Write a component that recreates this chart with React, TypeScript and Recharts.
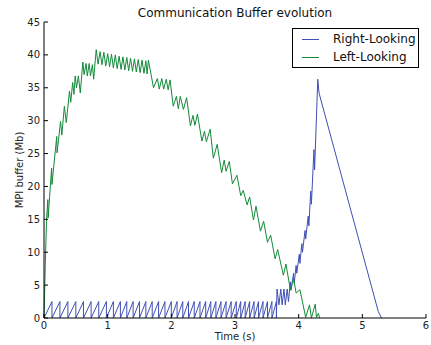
import { LineChart, Line, XAxis, YAxis, Legend } from "recharts";

/* ---------- data ---------- */

const xTicks = [0, 1, 2, 3, 4, 5, 6];
const yTicks = [0, 5, 10, 15, 20, 25, 30, 35, 40, 45];

// Right-Looking: small sawtooth teeth (rise to peak, straight drop to 0)
const rightTeethPeaks = [
  0.125, 0.25, 0.375, 0.5, 0.62, 0.74, 0.86, 0.98, 1.09, 1.2, 1.3, 1.4, 1.5,
  1.6, 1.7, 1.8, 1.9, 2.0, 2.09, 2.18, 2.27, 2.36, 2.45, 2.54, 2.62, 2.7,
  2.78, 2.86, 2.94, 3.02, 3.09, 3.16, 3.23, 3.3, 3.37, 3.44, 3.51, 3.58, 3.65,
];
const rightTeethHeight = 2.5;

// Right-Looking: after the teeth, the climb and the long decay
const rightTailTimes = [
  3.66, 3.69, 3.72, 3.74, 3.77, 3.79, 3.82, 3.84, 3.87, 3.88, 3.92, 3.93, 3.96,
  3.97, 4.01, 4.02, 4.05, 4.06, 4.1, 4.11, 4.15, 4.16, 4.19, 4.2, 4.24, 4.25,
  4.3, 4.32, 5.25, 5.3,
];
const rightTailValues = [
  4.4, 2.0, 4.4, 2.0, 4.4, 2.0, 4.4, 2.5, 5.5, 4.2, 6.8, 5.3, 8.0, 6.8, 9.7,
  8.3, 11.3, 10.0, 13.3, 12.0, 15.5, 14.0, 19.3, 17.3, 25.6, 22.5, 36.3, 34.2,
  1.0, 0,
];

// Left-Looking
const leftTimes = [
  0, 0.02, 0.04, 0.06, 0.065, 0.12, 0.125, 0.2, 0.205, 0.26, 0.28, 0.32, 0.35,
  0.4, 0.42, 0.45, 0.47, 0.49, 0.51, 0.54, 0.57, 0.61, 0.63, 0.66, 0.68, 0.71,
  0.73, 0.76, 0.78, 0.82, 0.85, 0.88, 0.91, 0.94, 0.97, 1.0, 1.03, 1.06, 1.09,
  1.12, 1.15, 1.18, 1.21, 1.24, 1.27, 1.3, 1.33, 1.36, 1.39, 1.42, 1.45, 1.48,
  1.51, 1.54, 1.57, 1.6, 1.62, 1.64, 1.72, 1.78, 1.81, 1.85, 1.88, 1.92, 1.95,
  1.98, 2.03, 2.08, 2.11, 2.14, 2.19, 2.24, 2.3, 2.34, 2.37, 2.41, 2.48, 2.52,
  2.55, 2.61, 2.66, 2.72, 2.79, 2.83, 2.86, 2.91, 2.96, 3.03, 3.09, 3.13, 3.19,
  3.23, 3.29, 3.33, 3.4, 3.45, 3.51, 3.56, 3.63, 3.67, 3.76, 3.8, 3.87, 3.92,
  3.96, 4.02, 4.11, 4.17, 4.2, 4.26, 4.28, 4.31, 4.33,
];
const leftValues = [
  0, 8, 15, 18, 15.2, 22.8, 20.3, 27.6, 25.1, 29.9, 27.8, 32.2, 29.7, 34.5,
  32.8, 35.8, 34.0, 36.8, 35.0, 36.8, 34.2, 38.9, 37.0, 38.7, 36.8, 38.7, 36.8,
  38.5, 36.3, 40.8, 38.6, 40.5, 38.5, 40.4, 38.3, 40.2, 38.2, 40.1, 38.0, 40.0,
  37.9, 39.8, 37.8, 39.7, 37.7, 39.6, 37.6, 39.5, 37.5, 39.4, 37.4, 39.3, 37.3,
  39.2, 37.2, 39.1, 37.1, 39.2, 35.0, 36.4, 34.8, 36.4, 34.8, 36.3, 34.7, 36.2,
  32.2, 33.7, 31.8, 33.7, 31.7, 33.5, 29.2, 30.8, 29.3, 31.0, 26.9, 28.4, 26.8,
  28.7, 24.3, 26.4, 22.1, 24.0, 22.3, 23.8, 20.4, 21.7, 18.6, 19.4, 17.2, 18.4,
  14.9, 17.0, 13.2, 14.7, 11.5, 12.6, 9.0, 10.4, 6.5, 8.2, 4.3, 6.0, 3.8, 4.3,
  0.1, 2.0, 0, 2.1, 0.1, 0.7, 0,
];

/* ---------- tables ---------- */

const rightData: { t: number; v: number }[] = [{ t: 0, v: 0 }];
rightTeethPeaks.forEach((t) => {
  rightData.push({ t, v: rightTeethHeight });
  rightData.push({ t, v: 0 });
});
rightTailTimes.forEach((t, i) => rightData.push({ t, v: rightTailValues[i] }));

const leftData = leftTimes.map((t, i) => ({ t, v: leftValues[i] }));

/* ---------- look ---------- */

const FONT = "DejaVu Sans, Verdana, sans-serif";
const BLUE = "#3f4fb5";
const GREEN = "#138a3a";
const W = 431;
const H = 345;
const PLOT = { left: 44, right: 426, top: 22, bottom: 318 };
const TICK = 4;

function BottomTick({ x, y, payload }: any) {
  return (
    <g>
      <line x1={x} x2={x} y1={y} y2={y - TICK} stroke="#000" />
      <text x={x} y={y + 11} textAnchor="middle" fontSize={10} fontFamily={FONT} fill="#222">
        {payload.value}
      </text>
    </g>
  );
}

function TopTick({ x, y }: any) {
  return <line x1={x} x2={x} y1={y} y2={y + TICK} stroke="#000" />;
}

function LeftTick({ x, y, payload }: any) {
  return (
    <g>
      <line x1={x} x2={x + TICK} y1={y} y2={y} stroke="#000" />
      <text x={x - 4} y={y} dy="0.35em" textAnchor="end" fontSize={10} fontFamily={FONT} fill="#222">
        {payload.value}
      </text>
    </g>
  );
}

function RightTick({ x, y }: any) {
  return <line x1={x} x2={x - TICK} y1={y} y2={y} stroke="#000" />;
}

function LegendBox() {
  const rows = [
    { name: "Right-Looking", color: BLUE },
    { name: "Left-Looking", color: GREEN },
  ];
  return (
    <div
      style={{
        width: 125,
        height: 38,
        border: "1px solid #000",
        background: "#fff",
        fontFamily: FONT,
        fontSize: 12,
        color: "#111",
        position: "relative",
      }}
    >
      {rows.map((r, i) => (
        <div
          key={r.name}
          style={{ position: "absolute", left: 0, top: 2 + i * 18, height: 16, display: "flex", alignItems: "center" }}
        >
          <span style={{ display: "inline-block", marginLeft: 9, width: 17, height: 0, borderTop: `1px solid ${r.color}` }} />
          <span style={{ marginLeft: 14 }}>{r.name}</span>
        </div>
      ))}
    </div>
  );
}

export default function App() {
  const cx = (PLOT.left + PLOT.right) / 2;
  const cy = (PLOT.top + PLOT.bottom) / 2;
  return (
    <div style={{ position: "absolute", left: 0, top: 0, width: W, height: H, background: "#fff" }}>
      <LineChart
        width={W}
        height={H}
        margin={{ top: PLOT.top, right: W - PLOT.right, bottom: 0, left: 0 }}
      >
        <XAxis
          dataKey="t"
          type="number"
          domain={[0, 6]}
          ticks={xTicks}
          height={H - PLOT.bottom}
          axisLine={{ stroke: "#000" }}
          tickLine={false}
          tickSize={0}
          tickMargin={0}
          tick={<BottomTick />}
          interval={0}
        />
        <XAxis
          xAxisId="top"
          orientation="top"
          type="number"
          domain={[0, 6]}
          ticks={xTicks}
          height={0}
          axisLine={{ stroke: "#000" }}
          tickLine={false}
          tickSize={0}
          tickMargin={0}
          tick={<TopTick />}
          interval={0}
        />
        <YAxis
          type="number"
          domain={[0, 45]}
          ticks={yTicks}
          width={PLOT.left}
          axisLine={{ stroke: "#000" }}
          tickLine={false}
          tickSize={0}
          tickMargin={0}
          tick={<LeftTick />}
          interval={0}
        />
        <YAxis
          yAxisId="right"
          orientation="right"
          type="number"
          domain={[0, 45]}
          ticks={yTicks}
          width={0}
          axisLine={{ stroke: "#000" }}
          tickLine={false}
          tickSize={0}
          tickMargin={0}
          tick={<RightTick />}
          interval={0}
        />
        <Legend
          layout="horizontal"
          verticalAlign="middle"
          align="center"
          wrapperStyle={{ position: "absolute", left: 292, top: 28, width: 127, height: 40 }}
          content={() => <LegendBox />}
        />
        <Line
          data={rightData}
          dataKey="v"
          name="Right-Looking"
          type="linear"
          stroke={BLUE}
          strokeWidth={1}
          dot={false}
          activeDot={false}
          isAnimationActive={false}
        />
        <Line
          data={leftData}
          dataKey="v"
          name="Left-Looking"
          type="linear"
          stroke={GREEN}
          strokeWidth={1}
          dot={false}
          activeDot={false}
          isAnimationActive={false}
        />
      </LineChart>
      <svg
        width={W}
        height={H}
        style={{ position: "absolute", left: 0, top: 0, pointerEvents: "none" }}
      >
        <text x={cx} y={17} textAnchor="middle" fontSize={12} fontFamily={FONT} fill="#111">
          Communication Buffer evolution
        </text>
        <text x={cx} y={340} textAnchor="middle" fontSize={10} fontFamily={FONT} fill="#222">
          Time (s)
        </text>
        <text
          x={0}
          y={0}
          transform={`translate(23, ${cy}) rotate(-90)`}
          textAnchor="middle"
          fontSize={10}
          fontFamily={FONT}
          fill="#222"
        >
          MPI buffer (Mb)
        </text>
      </svg>
    </div>
  );
}
